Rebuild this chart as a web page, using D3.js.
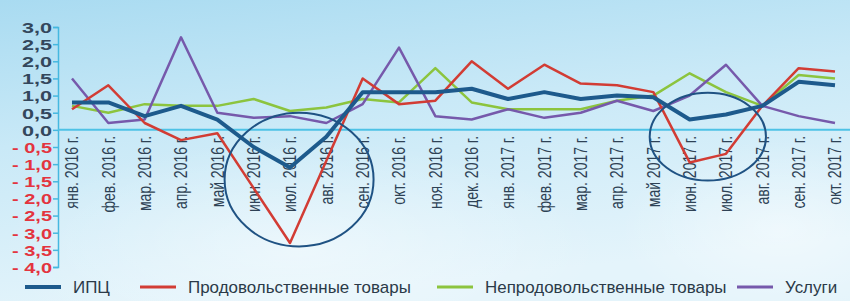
<!DOCTYPE html>
<html>
<head>
<meta charset="utf-8">
<script src="https://cdn.jsdelivr.net/npm/d3@7"></script>
<style>
  html, body { margin: 0; padding: 0; }
  svg { display: block; font-family: "Liberation Sans", Arial, sans-serif; }
</style>
</head>
<body>
<div id="chart"></div>
<script>
// Monthly data, янв. 2016 – окт. 2017
const months = [
  "янв. 2016 г.", "фев. 2016 г.", "мар. 2016 г.", "апр. 2016 г.", "май 2016 г.", "июн. 2016 г.",
  "июл. 2016 г.", "авг. 2016 г.", "сен. 2016 г.", "окт. 2016 г.", "ноя. 2016 г.", "дек. 2016 г.",
  "янв. 2017 г.", "фев. 2017 г.", "мар. 2017 г.", "апр. 2017 г.", "май 2017 г.", "июн. 2017 г.",
  "июл. 2017 г.", "авг. 2017 г.", "сен. 2017 г.", "окт. 2017 г."
]

const cpi      = [0.8, 0.8, 0.4, 0.7, 0.3, -0.5, -1.1, -0.2, 1.1, 1.1, 1.1, 1.2, 0.9, 1.1, 0.9, 1.0, 0.95, 0.3, 0.45, 0.7, 1.4, 1.3]
const food     = [0.6, 1.3, 0.2, -0.3, -0.1, -1.7, -3.3, -0.9, 1.5, 0.75, 0.85, 2.0, 1.2, 1.9, 1.35, 1.3, 1.1, -0.95, -0.7, 0.7, 1.8, 1.7]
const nonFood  = [0.7, 0.5, 0.75, 0.7, 0.7, 0.9, 0.55, 0.65, 0.9, 0.8, 1.8, 0.8, 0.6, 0.6, 0.6, 0.85, 1.0, 1.65, 1.1, 0.7, 1.6, 1.5]
const services = [1.5, 0.2, 0.3, 2.7, 0.5, 0.35, 0.4, 0.2, 0.75, 2.4, 0.4, 0.3, 0.6, 0.35, 0.5, 0.85, 0.55, 1.0, 1.9, 0.7, 0.4, 0.2]

const yTicks = [3, 2.5, 2, 1.5, 1, 0.5, 0, -0.5, -1, -1.5, -2, -2.5, -3, -3.5, -4]

const seriesNames = ["ИПЦ", "Продовольственные товары", "Непродовольственные товары", "Услуги"]
const seriesValues = [cpi, food, nonFood, services]
const seriesColors = ["#1d5a8c", "#d23c34", "#8cc43e", "#7659ab"]
const seriesWidths = [4, 2.5, 2.5, 2.5]

// highlighted regions: [centre month index, centre value, half-width in months, half-height in value]
const highlights = [[6.25, -1.45, 2.05, 1.95], [17.5, -0.2, 1.6, 1.28]]

const width = 850
const height = 301

const svg = d3.select("#chart")
  .append("svg")
  .attr("width", width)
  .attr("height", height)

// Background
const defs = svg.append("defs")
const bg = defs.append("linearGradient")
  .attr("id", "bg").attr("x1", 0).attr("y1", 0).attr("x2", 0.3).attr("y2", 1)
bg.append("stop").attr("offset", "0%").attr("stop-color", "#a9dbf1")
bg.append("stop").attr("offset", "45%").attr("stop-color", "#c9e9f7")
bg.append("stop").attr("offset", "100%").attr("stop-color", "#e4f4fb")
svg.append("rect").attr("width", width).attr("height", height).attr("fill", "url(#bg)")

const glow = defs.append("radialGradient").attr("id", "glow")
glow.append("stop").attr("offset", "0%").attr("stop-color", "#ffffff").attr("stop-opacity", 0.45)
glow.append("stop").attr("offset", "100%").attr("stop-color", "#ffffff").attr("stop-opacity", 0)
svg.append("ellipse").attr("cx", 300).attr("cy", 250).attr("rx", 300).attr("ry", 110).attr("fill", "url(#glow)")
svg.append("ellipse").attr("cx", 780).attr("cy", 230).attr("rx", 160).attr("ry", 90).attr("fill", "url(#glow)")

// Scales
const x = d3.scalePoint().domain(d3.range(months.length)).range([72, 835])
const y = d3.scaleLinear().domain([-4, 3]).range([267, 27])

// Y axis
const yAxis = svg.append("g")
  .attr("transform", "translate(58,0)")
  .call(d3.axisLeft(y).tickValues(yTicks).tickSize(5).tickFormat(""))
yAxis.selectAll("path, line").attr("stroke", "#45b8e0").attr("stroke-width", 1.5)

yAxis.selectAll(".tick")
  .append("text")
  .attr("x", -6)
  .attr("dy", "0.36em")
  .attr("text-anchor", "end")
  .attr("font-size", "15px")
  .attr("font-weight", "bold")
  .attr("fill", d => d < 0 ? "#e3343f" : "#33475c")
  .attr("textLength", d => d < 0 ? 40 : 30)
  .attr("lengthAdjust", "spacingAndGlyphs")
  .text(d => (d < 0 ? "- " : "") + d3.format(".1f")(Math.abs(d)).replace(".", ","))

// Zero line
svg.append("line")
  .attr("x1", 58).attr("x2", width)
  .attr("y1", y(0)).attr("y2", y(0))
  .attr("stroke", "#4ec2e6")
  .attr("stroke-width", 2)

// Month labels
svg.append("g")
  .selectAll("text")
  .data(months)
  .join("text")
  .attr("transform", (d, i) => `translate(${x(i)},${y(0) + 6}) rotate(-90) scale(1,1.25)`)
  .attr("dy", "0.36em")
  .attr("text-anchor", "end")
  .attr("font-size", "14px")
  .attr("fill", "#2e4255")
  .text(d => d)

// Lines
const line = d3.line().x((d, i) => x(i)).y(d => y(d))
const order = [2, 3, 1, 0]
order.forEach(k => {
  svg.append("path")
    .datum(seriesValues[k])
    .attr("d", line)
    .attr("fill", "none")
    .attr("stroke", seriesColors[k])
    .attr("stroke-width", seriesWidths[k])
    .attr("stroke-linejoin", "round")
})

// Highlight ellipses
const step = x.step()
highlights.forEach(([ci, cv, hw, hh]) => {
  svg.append("ellipse")
    .attr("cx", x.range()[0] + ci * step)
    .attr("cy", y(cv))
    .attr("rx", hw * step)
    .attr("ry", y(0) - y(hh))
    .attr("fill", "none")
    .attr("stroke", "#1f5283")
    .attr("stroke-width", 2)
})

// Legend
const legendX = [25, 140, 437, 737]
const legend = svg.append("g").attr("transform", "translate(0,287)")
seriesNames.forEach((name, k) => {
  const g = legend.append("g").attr("transform", `translate(${legendX[k]},0)`)
  g.append("line")
    .attr("x1", 0).attr("x2", 36)
    .attr("stroke", seriesColors[k])
    .attr("stroke-width", k === 0 ? 4 : 3)
  g.append("text")
    .attr("dy", "0.36em")
    .attr("font-size", "16px")
    .attr("fill", "#2b3a48")
    .attr("transform", "translate(48,0) scale(1.06,1)")
    .text(name)
})
</script>
</body>
</html>
